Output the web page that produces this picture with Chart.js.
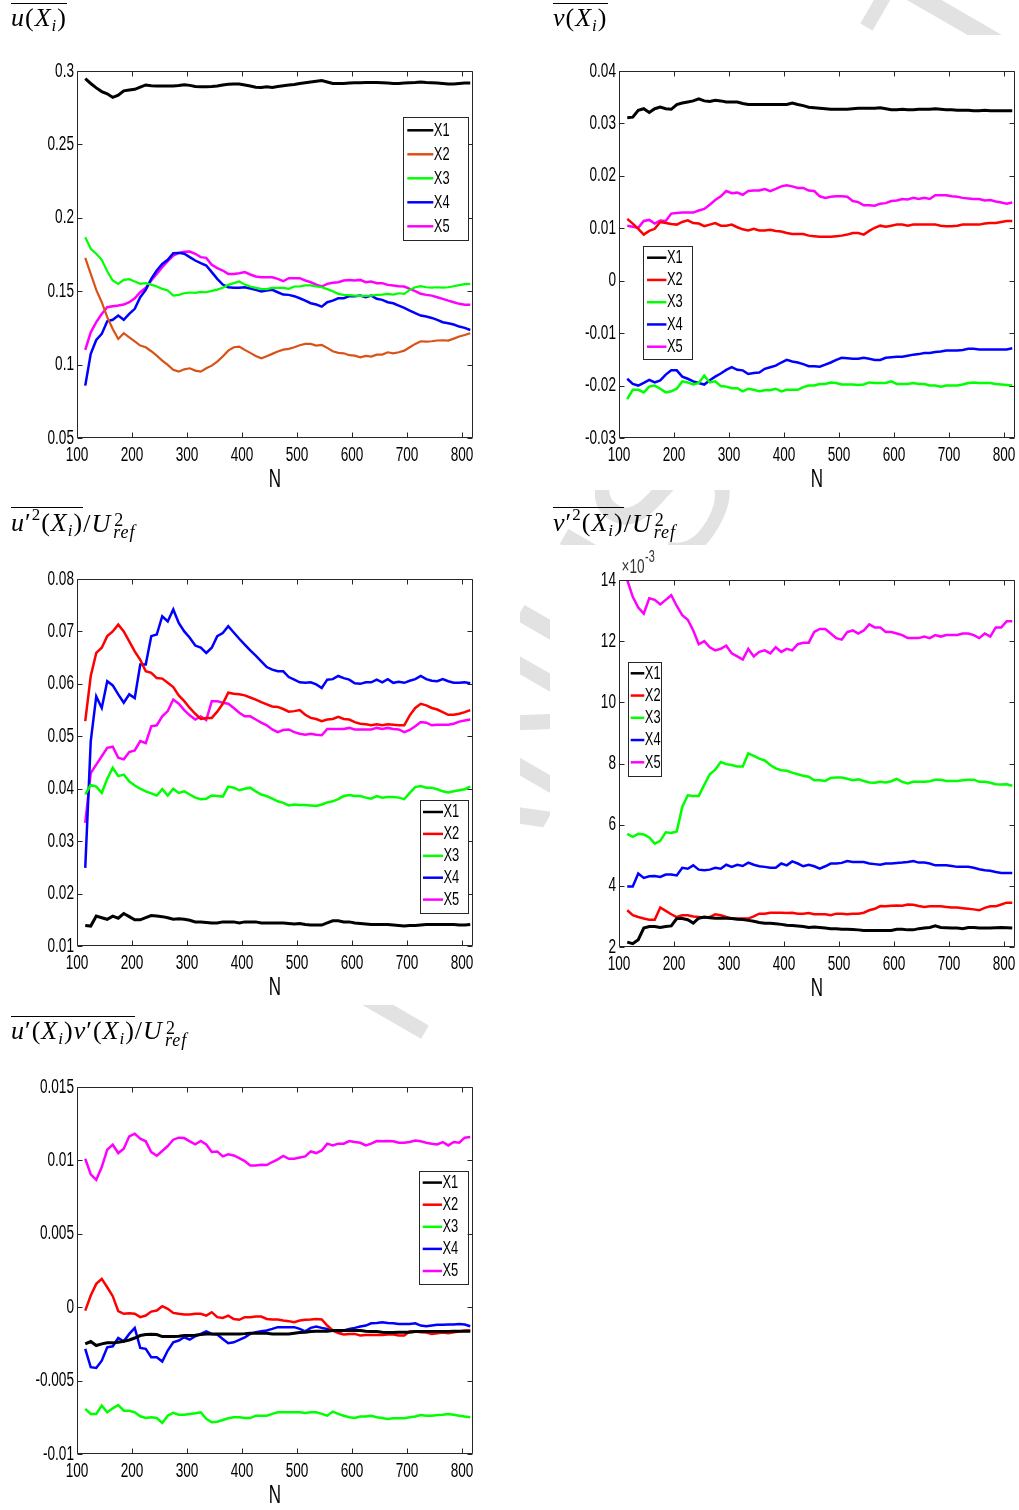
<!DOCTYPE html>
<html>
<head>
<meta charset="utf-8">
<title>Running statistics versus N</title>
<script src="https://cdn.jsdelivr.net/npm/chart.js@4.4.1/dist/chart.umd.min.js"></script>
<style>
  html, body { margin: 0; padding: 0; background: #fff; overflow: hidden; }
  #page { position: relative; width: 1019px; height: 1510px; overflow: hidden; background: #fff; }
  #wm { position: absolute; left: -250.7px; top: 1891px; transform-origin: 0 0; transform: rotate(-60deg);
        font-family: "Liberation Sans", Arial, sans-serif; font-size: 185px; line-height: 1;
        color: #e2e2e2; white-space: nowrap; z-index: 0; }
  .panel { position: absolute; background: #fff; z-index: 1; }
  canvas { position: absolute; z-index: 2; }
  .ttl { position: absolute; z-index: 3; font-family: "Liberation Serif", "Times New Roman", serif;
         font-size: 26px; line-height: 26px; letter-spacing: 1px; white-space: nowrap; color: #000; }
  .ttl i { font-style: italic; }
  .ov { display: inline-block; border-top: 1.4px solid #000; }
  .sb { position: relative; top: 5px; font-size: 17px; }
  .sp { position: relative; top: -11px; font-size: 17px; }
  .pr { font-style: normal; }
  .ss { position: relative; display: inline-block; width: 31px; height: 1px; }
  .s2 { position: absolute; left: 3px; top: -18.8px; font-size: 18px; line-height: 18px; font-style: normal; }
  .sr { position: absolute; left: 2px; top: -7.6px; font-size: 18px; line-height: 18px; }
</style>
</head>
<body>
<div id="page">
  <div id="wm">ACCEPTED MANUSCRIPT</div>
  <div class="panel" style="left:0;top:35px;width:520px;height:455px"></div>
  <div class="panel" style="left:550px;top:35px;width:469px;height:455px"></div>
  <div class="panel" style="left:0;top:545px;width:520px;height:460px"></div>
  <div class="panel" style="left:550px;top:545px;width:469px;height:460px"></div>
  <div class="panel" style="left:0;top:1052px;width:520px;height:458px"></div>

  <canvas id="cU"  width="476" height="507" style="left:0;top:1px;width:476px;height:507px"></canvas>
  <canvas id="cV"  width="476" height="507" style="left:542px;top:1px;width:476px;height:507px"></canvas>
  <canvas id="cUU" width="476" height="507" style="left:0;top:509px;width:476px;height:507px"></canvas>
  <canvas id="cVV" width="476" height="507" style="left:542px;top:510px;width:476px;height:507px"></canvas>
  <canvas id="cUV" width="476" height="507" style="left:0;top:1017px;width:476px;height:507px"></canvas>

  <div class="ttl" style="left:11px;top:3.3px"><span class="ov" style="padding-top:0.3px"><i>u</i>(<i>X</i><i class="sb">i</i>)</span></div>
  <div class="ttl" style="left:553px;top:3.3px"><span class="ov" style="padding-top:0.3px"><i>v</i>(<i>X</i><i class="sb">i</i>)</span></div>
  <div class="ttl" style="left:11px;top:506.6px"><span class="ov" style="padding-top:2.5px"><i>u</i><span class="pr">′</span><span class="sp">2</span>(<i>X</i><i class="sb">i</i>)</span>/<i>U</i><span class="ss"><span class="s2">2</span><i class="sr">ref</i></span></div>
  <div class="ttl" style="left:553px;top:506.6px"><span class="ov" style="padding-top:2.5px"><i>v</i><span class="pr">′</span><span class="sp">2</span>(<i>X</i><i class="sb">i</i>)</span>/<i>U</i><span class="ss"><span class="s2">2</span><i class="sr">ref</i></span></div>
  <div class="ttl" style="left:11px;top:1016px"><span class="ov" style="padding-top:1.1px"><i>u</i><span class="pr">′</span>(<i>X</i><i class="sb">i</i>)<i>v</i><span class="pr">′</span>(<i>X</i><i class="sb">i</i>)</span>/<i>U</i><span class="ss"><span class="s2">2</span><i class="sr">ref</i></span></div>
</div>

<script>
// Sample counts N at which the running statistics were evaluated
const N = [115,125,135,145,155,165,175,185,195,205,
           215,225,235,245,255,265,275,285,295,305,
           315,325,335,345,355,365,375,385,395,405,
           415,425,435,445,455,465,475,485,495,505,
           515,525,535,545,555,565,575,585,595,605,
           615,625,635,645,655,665,675,685,695,705,
           715,725,735,745,755,765,775,785,795,805,
           815];
const NAMES = ['X1', 'X2', 'X3', 'X4', 'X5'];
const X_TICKS = [100, 200, 300, 400, 500, 600, 700, 800];

// mean u(Xi)
const U_X1 = [0.2948,0.2915,0.2885,0.2860,0.2845,0.2820,0.2835,0.2865,0.2870,0.2875,
              0.2890,0.2905,0.2900,0.2898,0.2898,0.2898,0.2898,0.2902,0.2907,0.2902,
              0.2895,0.2893,0.2893,0.2895,0.2898,0.2905,0.2910,0.2912,0.2912,0.2905,
              0.2898,0.2890,0.2888,0.2892,0.2888,0.2895,0.2900,0.2905,0.2908,0.2915,
              0.2920,0.2925,0.2930,0.2935,0.2925,0.2915,0.2915,0.2915,0.2918,0.2920,
              0.2920,0.2922,0.2922,0.2922,0.2920,0.2918,0.2915,0.2915,0.2918,0.2920,
              0.2922,0.2925,0.2922,0.2920,0.2918,0.2915,0.2912,0.2912,0.2915,0.2918,
              0.2918];
const U_X2 = [0.1727,0.1618,0.1509,0.1425,0.1323,0.1243,0.1175,0.1214,0.1186,0.1159,
              0.1130,0.1118,0.1091,0.1061,0.1027,0.0998,0.0964,0.0952,0.0968,0.0975,
              0.0959,0.0952,0.0975,0.0993,0.1020,0.1055,0.1095,0.1118,0.1123,0.1100,
              0.1080,0.1059,0.1043,0.1057,0.1073,0.1089,0.1102,0.1107,0.1118,0.1132,
              0.1141,0.1141,0.1130,0.1134,0.1114,0.1091,0.1080,0.1077,0.1064,0.1061,
              0.1050,0.1059,0.1055,0.1068,0.1068,0.1084,0.1077,0.1084,0.1095,0.1118,
              0.1141,0.1159,0.1157,0.1159,0.1164,0.1166,0.1164,0.1177,0.1191,0.1202,
              0.1214];
const U_X3 = [0.1868,0.1789,0.1755,0.1714,0.1636,0.1573,0.1550,0.1577,0.1582,0.1566,
              0.1550,0.1555,0.1545,0.1532,0.1516,0.1505,0.1470,0.1475,0.1486,0.1491,
              0.1489,0.1495,0.1493,0.1502,0.1511,0.1523,0.1543,0.1555,0.1566,0.1545,
              0.1532,0.1523,0.1516,0.1514,0.1523,0.1523,0.1523,0.1516,0.1532,0.1532,
              0.1539,0.1539,0.1532,0.1527,0.1514,0.1500,0.1482,0.1475,0.1473,0.1470,
              0.1468,0.1468,0.1470,0.1475,0.1477,0.1482,0.1477,0.1486,0.1482,0.1509,
              0.1527,0.1534,0.1527,0.1525,0.1527,0.1525,0.1527,0.1534,0.1541,0.1548,
              0.1550];
const U_X4 = [0.0857,0.1073,0.1168,0.1209,0.1295,0.1305,0.1334,0.1305,0.1345,0.1380,
              0.1459,0.1509,0.1584,0.1641,0.1686,0.1714,0.1759,0.1761,0.1755,0.1732,
              0.1709,0.1691,0.1675,0.1630,0.1584,0.1545,0.1527,0.1523,0.1523,0.1527,
              0.1518,0.1509,0.1498,0.1505,0.1509,0.1493,0.1477,0.1475,0.1466,0.1452,
              0.1436,0.1418,0.1409,0.1395,0.1425,0.1436,0.1452,0.1452,0.1466,0.1466,
              0.1470,0.1459,0.1470,0.1448,0.1441,0.1425,0.1418,0.1402,0.1386,0.1368,
              0.1350,0.1334,0.1327,0.1318,0.1305,0.1289,0.1282,0.1273,0.1259,0.1250,
              0.1236];
const U_X5 = [0.1100,0.1220,0.1289,0.1345,0.1391,0.1398,0.1402,0.1409,0.1425,0.1452,
              0.1493,0.1523,0.1573,0.1618,0.1664,0.1705,0.1743,0.1761,0.1768,0.1770,
              0.1755,0.1732,0.1727,0.1680,0.1657,0.1641,0.1618,0.1618,0.1623,0.1630,
              0.1614,0.1600,0.1595,0.1595,0.1595,0.1584,0.1568,0.1589,0.1589,0.1589,
              0.1573,0.1561,0.1545,0.1532,0.1550,0.1557,0.1561,0.1573,0.1577,0.1573,
              0.1577,0.1561,0.1566,0.1555,0.1555,0.1543,0.1539,0.1534,0.1532,0.1516,
              0.1500,0.1482,0.1475,0.1470,0.1459,0.1448,0.1436,0.1425,0.1414,0.1407,
              0.1407];
const U_YTICKS = [0.05, 0.1, 0.15, 0.2, 0.25, 0.3];
const U_YLABELS = ['0.05', '0.1', '0.15', '0.2', '0.25', '0.3'];

// mean v(Xi)
const V_X1 = [0.0311,0.0312,0.0325,0.0328,0.0321,0.0328,0.0331,0.0328,0.0327,0.0336,
              0.0339,0.0341,0.0343,0.0347,0.0343,0.0342,0.0344,0.0343,0.0341,0.0341,
              0.0341,0.0338,0.0336,0.0336,0.0336,0.0336,0.0336,0.0336,0.0336,0.0336,
              0.0339,0.0336,0.0334,0.0331,0.0330,0.0329,0.0328,0.0327,0.0327,0.0327,
              0.0327,0.0328,0.0329,0.0329,0.0329,0.0329,0.0330,0.0328,0.0326,0.0326,
              0.0327,0.0326,0.0326,0.0327,0.0327,0.0327,0.0328,0.0327,0.0326,0.0326,
              0.0325,0.0325,0.0325,0.0324,0.0324,0.0325,0.0324,0.0324,0.0324,0.0324,
              0.0324];
const V_X2 = [0.0118,0.0109,0.0099,0.0088,0.0095,0.0099,0.0112,0.0110,0.0108,0.0107,
              0.0112,0.0115,0.0110,0.0109,0.0104,0.0107,0.0110,0.0105,0.0105,0.0107,
              0.0102,0.0098,0.0096,0.0099,0.0096,0.0096,0.0097,0.0095,0.0094,0.0091,
              0.0089,0.0089,0.0089,0.0086,0.0085,0.0084,0.0084,0.0084,0.0085,0.0086,
              0.0088,0.0091,0.0091,0.0088,0.0095,0.0101,0.0105,0.0103,0.0105,0.0107,
              0.0107,0.0105,0.0107,0.0107,0.0107,0.0107,0.0107,0.0105,0.0104,0.0104,
              0.0105,0.0107,0.0107,0.0107,0.0107,0.0109,0.0110,0.0110,0.0112,0.0114,
              0.0114];
const V_X3 = [-0.0226,-0.0208,-0.0208,-0.0213,-0.0202,-0.0200,-0.0206,-0.0213,-0.0211,-0.0206,
              -0.0192,-0.0194,-0.0198,-0.0195,-0.0181,-0.0194,-0.0192,-0.0201,-0.0202,-0.0205,
              -0.0205,-0.0211,-0.0206,-0.0208,-0.0211,-0.0209,-0.0209,-0.0206,-0.0211,-0.0208,
              -0.0208,-0.0208,-0.0203,-0.0200,-0.0200,-0.0197,-0.0197,-0.0194,-0.0195,-0.0198,
              -0.0198,-0.0198,-0.0199,-0.0198,-0.0194,-0.0195,-0.0195,-0.0195,-0.0192,-0.0197,
              -0.0197,-0.0197,-0.0195,-0.0197,-0.0197,-0.0200,-0.0200,-0.0202,-0.0200,-0.0200,
              -0.0200,-0.0198,-0.0195,-0.0194,-0.0195,-0.0195,-0.0195,-0.0197,-0.0198,-0.0199,
              -0.0200];
const V_X4 = [-0.0187,-0.0197,-0.0200,-0.0195,-0.0189,-0.0194,-0.0190,-0.0179,-0.0171,-0.0171,
              -0.0183,-0.0187,-0.0192,-0.0195,-0.0198,-0.0190,-0.0183,-0.0177,-0.0170,-0.0165,
              -0.0170,-0.0171,-0.0178,-0.0176,-0.0175,-0.0168,-0.0165,-0.0162,-0.0156,-0.0151,
              -0.0154,-0.0156,-0.0159,-0.0163,-0.0163,-0.0164,-0.0160,-0.0156,-0.0151,-0.0147,
              -0.0148,-0.0149,-0.0149,-0.0147,-0.0149,-0.0151,-0.0151,-0.0147,-0.0146,-0.0145,
              -0.0145,-0.0143,-0.0141,-0.0140,-0.0138,-0.0138,-0.0136,-0.0135,-0.0133,-0.0133,
              -0.0133,-0.0132,-0.0130,-0.0130,-0.0131,-0.0131,-0.0131,-0.0131,-0.0131,-0.0131,
              -0.0129];
const V_X5 = [0.0105,0.0103,0.0101,0.0114,0.0116,0.0109,0.0115,0.0114,0.0128,0.0129,
              0.0130,0.0130,0.0130,0.0134,0.0137,0.0145,0.0154,0.0161,0.0171,0.0167,
              0.0168,0.0164,0.0171,0.0172,0.0172,0.0175,0.0171,0.0175,0.0180,0.0182,
              0.0180,0.0177,0.0177,0.0172,0.0171,0.0161,0.0158,0.0160,0.0161,0.0161,
              0.0160,0.0152,0.0150,0.0144,0.0144,0.0143,0.0147,0.0148,0.0152,0.0153,
              0.0156,0.0155,0.0158,0.0156,0.0158,0.0156,0.0163,0.0163,0.0163,0.0161,
              0.0160,0.0158,0.0157,0.0156,0.0156,0.0153,0.0154,0.0151,0.0149,0.0147,
              0.0149];
const V_YTICKS = [-0.03, -0.02, -0.01, 0, 0.01, 0.02, 0.03, 0.04];
const V_YLABELS = ['-0.03', '-0.02', '-0.01', '0', '0.01', '0.02', '0.03', '0.04'];

// u'^2(Xi) / Uref^2
const UU_X1 = [0.0139,0.0138,0.0157,0.0154,0.0151,0.0157,0.0153,0.0162,0.0156,0.0150,
               0.0150,0.0154,0.0158,0.0157,0.0156,0.0154,0.0151,0.0152,0.0151,0.0149,
               0.0146,0.0146,0.0145,0.0144,0.0144,0.0146,0.0146,0.0146,0.0144,0.0146,
               0.0146,0.0146,0.0144,0.0144,0.0144,0.0144,0.0144,0.0143,0.0142,0.0143,
               0.0141,0.0140,0.0140,0.0140,0.0144,0.0148,0.0148,0.0146,0.0146,0.0144,
               0.0143,0.0142,0.0141,0.0141,0.0141,0.0141,0.0140,0.0139,0.0138,0.0139,
               0.0139,0.0140,0.0141,0.0141,0.0141,0.0141,0.0141,0.0141,0.0140,0.0140,
               0.0141];
const UU_X2 = [0.0529,0.0615,0.0659,0.0669,0.0691,0.0700,0.0713,0.0700,0.0681,0.0662,
               0.0646,0.0624,0.0621,0.0611,0.0610,0.0602,0.0594,0.0578,0.0567,0.0554,
               0.0543,0.0533,0.0535,0.0535,0.0547,0.0562,0.0583,0.0581,0.0580,0.0578,
               0.0574,0.0570,0.0565,0.0561,0.0557,0.0556,0.0552,0.0547,0.0548,0.0550,
               0.0541,0.0535,0.0533,0.0529,0.0532,0.0533,0.0537,0.0533,0.0532,0.0527,
               0.0524,0.0523,0.0521,0.0523,0.0521,0.0523,0.0522,0.0521,0.0521,0.0540,
               0.0554,0.0562,0.0559,0.0554,0.0551,0.0546,0.0541,0.0541,0.0543,0.0546,
               0.0550];
const UU_X3 = [0.0389,0.0407,0.0404,0.0392,0.0419,0.0440,0.0424,0.0427,0.0414,0.0406,
               0.0400,0.0395,0.0391,0.0387,0.0399,0.0387,0.0400,0.0392,0.0395,0.0389,
               0.0383,0.0380,0.0381,0.0387,0.0386,0.0385,0.0404,0.0402,0.0397,0.0400,
               0.0402,0.0395,0.0389,0.0386,0.0381,0.0376,0.0373,0.0368,0.0370,0.0369,
               0.0369,0.0368,0.0367,0.0370,0.0374,0.0376,0.0380,0.0386,0.0388,0.0386,
               0.0386,0.0383,0.0381,0.0386,0.0383,0.0384,0.0384,0.0383,0.0380,0.0392,
               0.0403,0.0405,0.0402,0.0402,0.0399,0.0395,0.0393,0.0395,0.0397,0.0399,
               0.0404];
const UU_X4 = [0.0249,0.0491,0.0576,0.0554,0.0605,0.0597,0.0580,0.0564,0.0580,0.0573,
               0.0637,0.0637,0.0691,0.0694,0.0729,0.0719,0.0742,0.0716,0.0700,0.0688,
               0.0673,0.0669,0.0659,0.0669,0.0691,0.0697,0.0710,0.0698,0.0686,0.0675,
               0.0664,0.0654,0.0643,0.0632,0.0627,0.0624,0.0624,0.0613,0.0608,0.0603,
               0.0602,0.0603,0.0599,0.0592,0.0608,0.0609,0.0615,0.0611,0.0608,0.0601,
               0.0600,0.0603,0.0603,0.0608,0.0603,0.0609,0.0602,0.0604,0.0602,0.0606,
               0.0609,0.0615,0.0609,0.0606,0.0605,0.0609,0.0605,0.0602,0.0602,0.0603,
               0.0601];
const UU_X5 = [0.0335,0.0430,0.0446,0.0462,0.0478,0.0480,0.0459,0.0456,0.0470,0.0473,
               0.0491,0.0487,0.0519,0.0521,0.0538,0.0548,0.0570,0.0562,0.0550,0.0540,
               0.0532,0.0538,0.0531,0.0567,0.0567,0.0564,0.0562,0.0554,0.0545,0.0538,
               0.0538,0.0532,0.0526,0.0521,0.0513,0.0508,0.0512,0.0513,0.0508,0.0505,
               0.0503,0.0505,0.0503,0.0502,0.0514,0.0514,0.0514,0.0514,0.0516,0.0513,
               0.0513,0.0513,0.0513,0.0516,0.0514,0.0516,0.0514,0.0513,0.0508,0.0512,
               0.0519,0.0527,0.0526,0.0521,0.0522,0.0522,0.0522,0.0524,0.0528,0.0530,
               0.0532];
const UU_YTICKS = [0.01, 0.02, 0.03, 0.04, 0.05, 0.06, 0.07, 0.08];
const UU_YLABELS = ['0.01', '0.02', '0.03', '0.04', '0.05', '0.06', '0.07', '0.08'];

// v'^2(Xi) / Uref^2, in units of 1e-3
const VV_X1 = [2.16,2.11,2.24,2.62,2.67,2.67,2.64,2.67,2.69,2.93,
               2.93,2.89,2.78,2.94,2.98,2.96,2.94,2.94,2.94,2.93,
               2.91,2.90,2.87,2.84,2.80,2.78,2.78,2.76,2.74,2.71,
               2.70,2.69,2.67,2.64,2.65,2.64,2.62,2.60,2.60,2.58,
               2.58,2.57,2.56,2.54,2.54,2.54,2.54,2.54,2.54,2.58,
               2.58,2.56,2.56,2.60,2.62,2.64,2.69,2.64,2.63,2.62,
               2.62,2.60,2.64,2.64,2.62,2.62,2.62,2.63,2.64,2.63,
               2.62];
const VV_X2 = [3.20,3.04,2.98,2.93,2.89,2.89,3.29,3.18,3.07,2.98,
               3.04,3.04,3.00,2.98,2.96,2.98,3.07,3.04,2.98,2.93,
               2.93,2.93,2.93,3.00,3.09,3.09,3.12,3.12,3.12,3.11,
               3.12,3.09,3.09,3.11,3.07,3.07,3.07,3.04,3.09,3.09,
               3.07,3.09,3.09,3.12,3.20,3.25,3.34,3.33,3.35,3.36,
               3.35,3.39,3.38,3.34,3.31,3.33,3.33,3.33,3.31,3.29,
               3.29,3.27,3.25,3.23,3.20,3.28,3.33,3.33,3.39,3.45,
               3.45];
const VV_X3 = [5.70,5.60,5.70,5.68,5.58,5.38,5.47,5.75,5.73,5.78,
               6.58,6.96,6.94,6.94,7.30,7.65,7.80,8.05,7.98,7.95,
               7.90,7.90,8.33,8.25,8.16,8.10,7.95,7.84,7.78,7.76,
               7.70,7.65,7.60,7.57,7.45,7.45,7.43,7.53,7.54,7.54,
               7.50,7.45,7.48,7.43,7.38,7.37,7.40,7.38,7.42,7.50,
               7.40,7.35,7.40,7.40,7.40,7.42,7.47,7.47,7.43,7.43,
               7.43,7.45,7.47,7.47,7.40,7.40,7.37,7.32,7.31,7.32,
               7.27];
const VV_X4 = [3.98,3.98,4.40,4.26,4.31,4.32,4.29,4.37,4.37,4.34,
               4.59,4.56,4.67,4.53,4.51,4.53,4.59,4.56,4.69,4.62,
               4.69,4.65,4.76,4.69,4.64,4.62,4.59,4.59,4.73,4.67,
               4.80,4.73,4.64,4.69,4.64,4.56,4.64,4.73,4.73,4.75,
               4.81,4.78,4.78,4.78,4.73,4.71,4.69,4.73,4.73,4.75,
               4.76,4.78,4.81,4.76,4.76,4.73,4.67,4.67,4.67,4.65,
               4.62,4.62,4.62,4.59,4.54,4.51,4.49,4.45,4.42,4.42,
               4.42];
const VV_X5 = [14.00,13.45,13.10,12.90,13.40,13.35,13.20,13.35,13.50,13.15,
               12.85,12.70,12.35,11.90,12.00,11.80,11.70,11.75,11.85,11.60,
               11.50,11.40,11.75,11.50,11.65,11.70,11.60,11.80,11.65,11.75,
               11.70,11.90,11.95,11.95,12.30,12.40,12.40,12.25,12.10,12.05,
               12.30,12.35,12.25,12.35,12.55,12.45,12.45,12.30,12.30,12.25,
               12.20,12.10,12.10,12.10,12.15,12.10,12.20,12.15,12.20,12.20,
               12.20,12.25,12.25,12.20,12.10,12.25,12.15,12.45,12.45,12.65,
               12.65];
const VV_YTICKS = [2, 4, 6, 8, 10, 12, 14];
const VV_YLABELS = ['2', '4', '6', '8', '10', '12', '14'];

// u'(Xi) v'(Xi) / Uref^2
const UV_X1 = [-0.00250,-0.00234,-0.00261,-0.00250,-0.00243,-0.00243,-0.00239,-0.00232,-0.00223,-0.00210,
               -0.00193,-0.00186,-0.00184,-0.00186,-0.00200,-0.00200,-0.00200,-0.00198,-0.00193,-0.00193,
               -0.00191,-0.00186,-0.00182,-0.00182,-0.00182,-0.00182,-0.00182,-0.00182,-0.00182,-0.00180,
               -0.00177,-0.00177,-0.00177,-0.00177,-0.00182,-0.00182,-0.00182,-0.00182,-0.00177,-0.00173,
               -0.00170,-0.00166,-0.00164,-0.00164,-0.00164,-0.00159,-0.00159,-0.00159,-0.00159,-0.00159,
               -0.00159,-0.00164,-0.00166,-0.00166,-0.00170,-0.00173,-0.00173,-0.00170,-0.00170,-0.00170,
               -0.00166,-0.00166,-0.00166,-0.00166,-0.00166,-0.00166,-0.00166,-0.00164,-0.00164,-0.00164,
               -0.00164];
const UV_X2 = [-0.00023,0.00080,0.00159,0.00193,0.00136,0.00075,-0.00027,-0.00045,-0.00041,-0.00045,
               -0.00068,-0.00057,-0.00030,-0.00023,0.00007,-0.00011,-0.00039,-0.00045,-0.00050,-0.00050,
               -0.00045,-0.00045,-0.00057,-0.00034,-0.00068,-0.00073,-0.00057,-0.00080,-0.00086,-0.00068,
               -0.00068,-0.00064,-0.00064,-0.00080,-0.00084,-0.00084,-0.00091,-0.00095,-0.00102,-0.00091,
               -0.00086,-0.00084,-0.00080,-0.00084,-0.00125,-0.00159,-0.00177,-0.00186,-0.00182,-0.00182,
               -0.00193,-0.00189,-0.00189,-0.00189,-0.00189,-0.00186,-0.00186,-0.00193,-0.00193,-0.00164,
               -0.00164,-0.00170,-0.00173,-0.00182,-0.00177,-0.00173,-0.00177,-0.00170,-0.00166,-0.00159,
               -0.00159];
const UV_X3 = [-0.00693,-0.00727,-0.00727,-0.00670,-0.00716,-0.00689,-0.00666,-0.00705,-0.00705,-0.00716,
               -0.00743,-0.00755,-0.00750,-0.00755,-0.00789,-0.00739,-0.00720,-0.00732,-0.00732,-0.00727,
               -0.00723,-0.00716,-0.00761,-0.00784,-0.00780,-0.00768,-0.00757,-0.00750,-0.00750,-0.00755,
               -0.00755,-0.00739,-0.00739,-0.00739,-0.00727,-0.00716,-0.00716,-0.00716,-0.00716,-0.00716,
               -0.00720,-0.00716,-0.00716,-0.00727,-0.00739,-0.00711,-0.00727,-0.00739,-0.00750,-0.00755,
               -0.00745,-0.00745,-0.00739,-0.00750,-0.00755,-0.00761,-0.00757,-0.00757,-0.00757,-0.00750,
               -0.00745,-0.00734,-0.00739,-0.00739,-0.00734,-0.00732,-0.00727,-0.00732,-0.00739,-0.00745,
               -0.00750];
const UV_X4 = [-0.00284,-0.00409,-0.00414,-0.00364,-0.00273,-0.00266,-0.00210,-0.00232,-0.00182,-0.00141,
               -0.00277,-0.00284,-0.00341,-0.00341,-0.00370,-0.00295,-0.00239,-0.00227,-0.00205,-0.00220,
               -0.00198,-0.00182,-0.00164,-0.00182,-0.00186,-0.00216,-0.00245,-0.00239,-0.00223,-0.00205,
               -0.00182,-0.00170,-0.00164,-0.00159,-0.00148,-0.00136,-0.00136,-0.00136,-0.00136,-0.00148,
               -0.00164,-0.00141,-0.00132,-0.00141,-0.00148,-0.00159,-0.00170,-0.00159,-0.00148,-0.00141,
               -0.00132,-0.00125,-0.00110,-0.00107,-0.00102,-0.00107,-0.00110,-0.00114,-0.00114,-0.00114,
               -0.00110,-0.00125,-0.00130,-0.00125,-0.00120,-0.00120,-0.00118,-0.00118,-0.00114,-0.00118,
               -0.00130];
const UV_X5 = [0.01011,0.00905,0.00868,0.00955,0.01073,0.01107,0.01050,0.01080,0.01164,0.01182,
               0.01148,0.01130,0.01057,0.01032,0.01064,0.01098,0.01141,0.01155,0.01152,0.01130,
               0.01109,0.01132,0.01109,0.01057,0.01061,0.01027,0.01041,0.01034,0.01016,0.00995,
               0.00966,0.00966,0.00970,0.00968,0.00989,0.01007,0.01030,0.01011,0.01011,0.01020,
               0.01027,0.01061,0.01050,0.01068,0.01114,0.01102,0.01114,0.01114,0.01132,0.01125,
               0.01120,0.01102,0.01114,0.01132,0.01130,0.01132,0.01130,0.01120,0.01120,0.01125,
               0.01136,0.01130,0.01120,0.01114,0.01109,0.01125,0.01102,0.01125,0.01120,0.01155,
               0.01159];
const UV_YTICKS = [-0.01, -0.005, 0, 0.005, 0.01, 0.015];
const UV_YLABELS = ['-0.01', '-0.005', '0', '0.005', '0.01', '0.015'];

const BLACK = '#000000', ORANGE = '#D95319', RED = '#FF0000',
      GREEN = '#00FF00', BLUE = '#0000FF', MAGENTA = '#FF00FF';
const AXIS_COLOR = '#262626';
const TEXT_COLOR = '#000000';
const TICK_FONT = '20px "Liberation Sans", Arial, sans-serif';
const LEG_FONT = '19px "Liberation Sans", Arial, sans-serif';
const NAME_FONT = '25px "Liberation Sans", Arial, sans-serif';
const EXP_FONT = '20px "Liberation Sans", Arial, sans-serif';
const EXP_SUP_FONT = '16px "Liberation Sans", Arial, sans-serif';
const SQUEEZE = 0.68;   // horizontal compression of the axis lettering

function narrowText(ctx, text, x, y, align, font, baseline) {
  ctx.save();
  ctx.font = font;
  ctx.textAlign = align;
  ctx.textBaseline = baseline || 'middle';
  ctx.translate(x, y);
  ctx.scale(SQUEEZE, 1);
  ctx.fillText(text, 0, 0);
  ctx.restore();
}

// Boxed axes with inward ticks, tick labels, axis name and an inset legend
const axesFrame = {
  id: 'axesFrame',
  afterDatasetsDraw(chart, args, o) {
    const { ctx, chartArea: a } = chart;
    const xs = chart.scales.x, ys = chart.scales.y;
    const L = Math.round(a.left) + 0.5, R = Math.round(a.right) - 0.5;
    const T = Math.round(a.top) + 0.5, B = Math.round(a.bottom) - 0.5;
    ctx.save();
    ctx.strokeStyle = AXIS_COLOR;
    ctx.lineWidth = 1;
    ctx.beginPath();
    ctx.rect(L, T, R - L, B - T);
    xs.ticks.forEach(t => {
      const p = Math.round(xs.getPixelForValue(t.value)) + 0.5;
      ctx.moveTo(p, B); ctx.lineTo(p, B - 5);
      ctx.moveTo(p, T); ctx.lineTo(p, T + 5);
    });
    ys.ticks.forEach(t => {
      const p = Math.round(ys.getPixelForValue(t.value)) + 0.5;
      ctx.moveTo(L, p); ctx.lineTo(L + 5, p);
      ctx.moveTo(R, p); ctx.lineTo(R - 5, p);
    });
    ctx.stroke();

    ctx.fillStyle = TEXT_COLOR;
    xs.ticks.forEach(t => narrowText(ctx, String(t.label), xs.getPixelForValue(t.value), a.bottom + 17, 'center', TICK_FONT));
    ys.ticks.forEach(t => narrowText(ctx, String(t.label), a.left - 3, ys.getPixelForValue(t.value), 'right', TICK_FONT));
    narrowText(ctx, 'N', (a.left + a.right) / 2, a.bottom + 42, 'center', NAME_FONT);

    if (o.exponent) {
      const x0 = a.left + 2.5, y0 = a.top - 7.5;
      ctx.fillStyle = '#333333';
      narrowText(ctx, o.exponent.base, x0, y0, 'left', EXP_FONT, 'alphabetic');
      ctx.font = EXP_FONT;
      const w = ctx.measureText(o.exponent.base).width * SQUEEZE;
      narrowText(ctx, o.exponent.power, x0 + w + 0.5, y0 - 10.5, 'left', EXP_SUP_FONT, 'alphabetic');
    }

    const lg = o.legend;
    if (lg) {
      const bx = lg.side === 'right' ? a.right - lg.dx - lg.w : a.left + lg.dx;
      const by = a.top + lg.dy;
      ctx.fillStyle = '#ffffff';
      ctx.fillRect(bx, by, lg.w, lg.h);
      ctx.strokeStyle = AXIS_COLOR;
      ctx.lineWidth = 1;
      ctx.strokeRect(Math.round(bx) + 0.5, Math.round(by) + 0.5, Math.round(lg.w), Math.round(lg.h));
      chart.data.datasets.forEach((ds, k) => {
        const yy = by + lg.row0 + k * lg.rowH;
        ctx.strokeStyle = ds.borderColor;
        ctx.lineWidth = 2.5;
        ctx.beginPath();
        ctx.moveTo(bx + lg.pad, yy);
        ctx.lineTo(bx + lg.pad + lg.len, yy);
        ctx.stroke();
        ctx.fillStyle = '#000000';
        narrowText(ctx, ds.label, bx + lg.pad + lg.len + 0.5, yy, 'left', LEG_FONT);
      });
    }
    ctx.restore();
  }
};

function buildChart(id, series, colors, widths, yMin, yMax, yTicks, yLabels, legend, exponent) {
  return new Chart(document.getElementById(id), {
    type: 'line',
    data: {
      datasets: series.map((vals, k) => ({
        label: NAMES[k],
        data: N.map((n, i) => ({ x: n, y: vals[i] })),
        borderColor: colors[k],
        backgroundColor: colors[k],
        borderWidth: widths[k],
        pointRadius: 0,
        tension: 0,
        fill: false
      }))
    },
    options: {
      responsive: false,
      animation: false,
      devicePixelRatio: 1,
      layout: { padding: { top: 70, right: 3, left: 0, bottom: 0 } },
      plugins: {
        legend: { display: false },
        tooltip: { enabled: false },
        axesFrame: { legend, exponent }
      },
      scales: {
        x: {
          type: 'linear', position: 'bottom', min: 100, max: 820,
          afterBuildTicks: s => { s.ticks = X_TICKS.map(v => ({ value: v })); },
          afterFit: s => { s.height = 70; },
          grid: { display: false, drawTicks: false },
          border: { display: false },
          ticks: { display: false, autoSkip: false, callback: v => String(v) }
        },
        y: {
          type: 'linear', position: 'left', min: yMin, max: yMax,
          afterBuildTicks: s => { s.ticks = yTicks.map(v => ({ value: v })); },
          afterFit: s => { s.width = 77; },
          grid: { display: false, drawTicks: false },
          border: { display: false },
          ticks: { display: false, autoSkip: false, callback: (v, i) => yLabels[i] }
        }
      }
    },
    plugins: [axesFrame]
  });
}

buildChart('cU', [U_X1, U_X2, U_X3, U_X4, U_X5],
  [BLACK, ORANGE, GREEN, BLUE, MAGENTA], [3, 2.2, 2.2, 2.5, 2.5],
  0.05, 0.3, U_YTICKS, U_YLABELS,
  { side: 'right', dx: 5, dy: 46, w: 65, h: 122.6, pad: 4.3, len: 26, row0: 13.3, rowH: 24 });

buildChart('cV', [V_X1, V_X2, V_X3, V_X4, V_X5],
  [BLACK, RED, GREEN, BLUE, MAGENTA], [3, 2.5, 2.5, 2.5, 2.5],
  -0.03, 0.04, V_YTICKS, V_YLABELS,
  { side: 'left', dx: 24, dy: 175, w: 49, h: 113.3, pad: 4, len: 19.4, row0: 11.7, rowH: 22.25 });

buildChart('cUU', [UU_X1, UU_X2, UU_X3, UU_X4, UU_X5],
  [BLACK, RED, GREEN, BLUE, MAGENTA], [3, 2.5, 2.5, 2.5, 2.5],
  0.01, 0.08, UU_YTICKS, UU_YLABELS,
  { side: 'right', dx: 5, dy: 220.7, w: 48.3, h: 113.3, pad: 3.3, len: 20, row0: 12.3, rowH: 21.9 });

buildChart('cVV', [VV_X1, VV_X2, VV_X3, VV_X4, VV_X5],
  [BLACK, RED, GREEN, BLUE, MAGENTA], [3, 2.5, 2.5, 2.5, 2.5],
  2, 14, VV_YTICKS, VV_YLABELS,
  { side: 'left', dx: 9.3, dy: 82.3, w: 33, h: 113.7, pad: 2.4, len: 13.6, row0: 11, rowH: 22.25 },
  { base: '×10', power: '-3' });

buildChart('cUV', [UV_X1, UV_X2, UV_X3, UV_X4, UV_X5],
  [BLACK, RED, GREEN, BLUE, MAGENTA], [3, 2.5, 2.5, 2.5, 2.5],
  -0.01, 0.015, UV_YTICKS, UV_YLABELS,
  { side: 'right', dx: 5.7, dy: 84, w: 48.6, h: 113.3, pad: 4, len: 19.3, row0: 11.6, rowH: 22.1 });
</script>
</body>
</html>
